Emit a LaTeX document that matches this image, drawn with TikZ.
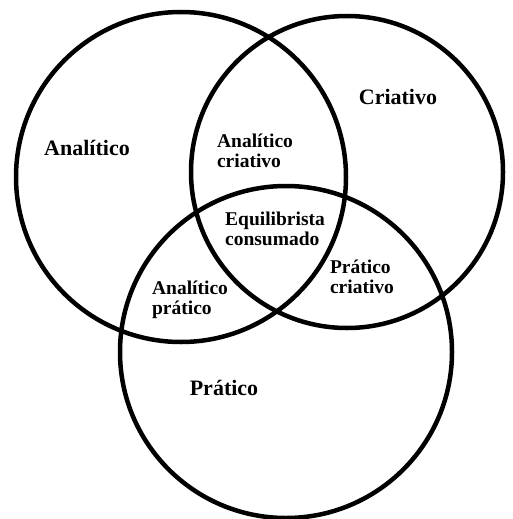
\documentclass[tikz,border=0pt]{standalone}
\usepackage{fontspec}
\setmainfont{Liberation Serif}
\usepackage{tikz}
\usetikzlibrary{positioning}

\begin{document}
\begin{tikzpicture}[
    x=1pt, y=-1pt,
    setcircle/.style={draw=black, line width=4.5pt},
    biglabel/.style={font=\bfseries\fontsize{22}{22}\selectfont, inner sep=0pt},
    smalllabel/.style={font=\bfseries\fontsize{19.5}{20.5}\selectfont, align=left, inner sep=0pt}
]
    \useasboundingbox (0,0) rectangle (512,519);
    % Circle centres
    \coordinate (anacenter) at (181,177);
    \coordinate (cricenter) at (347,172);
    \coordinate (pracenter) at (286,352);

    % Circles
    \draw[setcircle] (anacenter) circle[radius=165pt];
    \draw[setcircle] (cricenter) circle[radius=156pt];
    \draw[setcircle] (pracenter) circle[radius=166pt];

    % Labels
    \node[biglabel] (analitico) at (87,148) {Analítico};
    \node[biglabel] (criativo) at (398,97) {Criativo};
    \node[biglabel] (pratico) at (224,388) {Prático};
    \node[smalllabel] (anacri) at (255,151) {Analítico\\criativo};
    \node[smalllabel] (equil) at (275,229) {Equilibrista\\consumado};
    \node[smalllabel] (pracri) at (362,277) {Prático\\criativo};
    \node[smalllabel] (anapra) at (190,300) {Analítico\\prático};
\end{tikzpicture}
\end{document}
